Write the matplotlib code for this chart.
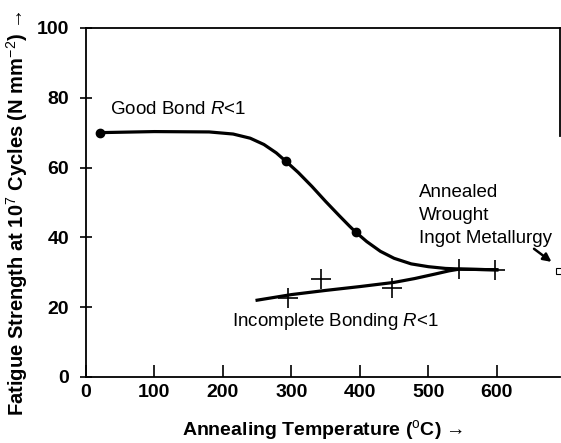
import matplotlib.pyplot as plt

plt.rcParams['font.family'] = ['Liberation Sans', 'DejaVu Sans']
plt.rcParams['mathtext.fontset'] = 'custom'
plt.rcParams['mathtext.rm'] = 'Liberation Sans'
plt.rcParams['mathtext.it'] = 'Liberation Sans:italic'
plt.rcParams['mathtext.bf'] = 'Liberation Sans:bold'

# good bond curve
good_x = [20, 100, 180, 215, 240, 260, 278, 292, 310, 330, 350, 370, 385, 394,
          410, 430, 450, 475, 500, 525, 550, 600]
good_y = [70, 70.3, 70.2, 69.6, 68.4, 66.6, 64.2, 61.8, 58.6, 54.6, 50.3, 46.2, 43.2, 41.5,
          38.8, 36, 34, 32.4, 31.6, 31.1, 30.9, 30.7]
good_pts_x = [20, 292, 394]
good_pts_y = [70, 61.8, 41.5]

# incomplete bonding
inc_x = [250, 300, 350, 400, 450, 480, 510, 530, 545, 600]
inc_y = [22, 23.6, 24.8, 25.9, 27.1, 28.2, 29.5, 30.4, 30.9, 30.7]
inc_pts_x = [295, 344, 447, 545, 597]
inc_pts_y = [22.5, 28, 25.5, 30.8, 30.6]

wrought_x = [690]
wrought_y = [30.3]

fig = plt.figure(figsize=(5.61, 4.43), dpi=100)
ax = fig.add_axes([0.153, 0.149, 0.845, 0.788])

ax.plot(good_x, good_y, color='black', lw=2.3)
ax.plot(good_pts_x, good_pts_y, 'o', color='black', ms=6)
ax.plot(inc_x, inc_y, color='black', lw=2.3)
ax.plot(inc_pts_x, inc_pts_y, '+', color='black', ms=14, mew=1.2)
ax.plot(wrought_x, wrought_y, 's', mfc='white', mec='black', ms=5, mew=0.8, clip_on=False)

ax.text(35, 76.5, 'Good Bond $R$<1', fontsize=13.5, va='center')
ax.text(213, 15.8, 'Incomplete Bonding $R$<1', fontsize=13.5, va='center')
ax.text(486, 37.3, 'Annealed\nWrought\nIngot Metallurgy', fontsize=13.5, va='bottom',
        linespacing=1.45)
ax.annotate('', xy=(683, 32.5), xytext=(651, 37.2),
            arrowprops=dict(arrowstyle='-|>', color='black', lw=1.8, mutation_scale=12))

ax.set_xlim(0, 692)
ax.set_ylim(0, 100)
ax.set_xticks([0, 100, 200, 300, 400, 500, 600])
ax.set_yticks([0, 20, 40, 60, 80, 100])
ax.tick_params(axis='x', direction='in', length=9, width=1.2, pad=5, labelsize=14)
ax.tick_params(axis='y', direction='inout', length=8, width=1.2, pad=8, labelsize=14)
for lab in ax.get_xticklabels() + ax.get_yticklabels():
    lab.set_fontweight('bold')

for s in ax.spines.values():
    s.set_linewidth(1.3)
ax.spines['right'].set_bounds(69, 100)

ax.set_xlabel('Annealing Temperature ($^{\\mathrm{o}}$C) \u2192', fontsize=14,
              fontweight='bold', labelpad=12)
ax.set_ylabel('Fatigue Strength at 10$^{7}$ Cycles (N mm$^{-2}$) \u2192',
              fontsize=14.5, fontweight='bold')
ax.yaxis.set_label_coords(-0.118, 0.47)

fig.savefig('out.png', dpi=100)
